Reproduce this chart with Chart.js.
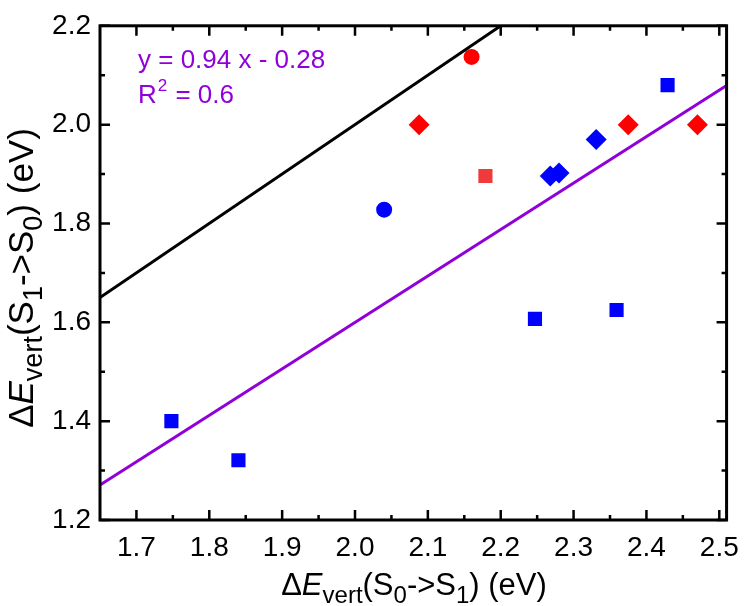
<!DOCTYPE html>
<html>
<head>
<meta charset="utf-8">
<style>
  html, body { margin: 0; padding: 0; background: #fff; }
  #wrap { width: 750px; height: 606px; }
</style>
<script src="https://cdn.jsdelivr.net/npm/chart.js@4"></script>
</head>
<body>
<div id="wrap"><canvas id="chart" width="750" height="606"></canvas></div>
<script>
// ---- Data ---------------------------------------------------------------

const X_TICKS = [1.7, 1.8, 1.9, 2.0, 2.1, 2.2, 2.3, 2.4, 2.5];
const Y_TICKS = [1.2, 1.4, 1.6, 1.8, 2.0, 2.2];
const X_MINOR = [1.75, 1.85, 1.95, 2.05, 2.15, 2.25, 2.35, 2.45];
const Y_MINOR = [1.3, 1.5, 1.7, 1.9, 2.1];

const blueSquares = [
  { x: 1.748, y: 1.400 },
  { x: 1.840, y: 1.321 },
  { x: 2.247, y: 1.607 },
  { x: 2.359, y: 1.625 },
  { x: 2.429, y: 2.080 },
];
const blueDiamonds = [
  { x: 2.268, y: 1.896 },
  { x: 2.280, y: 1.902 },
  { x: 2.331, y: 1.970 },
];
const blueCircles = [{ x: 2.040, y: 1.828 }];
const redDiamonds = [
  { x: 2.088, y: 2.000 },
  { x: 2.375, y: 2.000 },
  { x: 2.470, y: 2.000 },
];
const redCircles = [{ x: 2.160, y: 2.137 }];
const redSquares = [{ x: 2.179, y: 1.896 }];

// y = x reference line and linear fit (y = 0.94 x - 0.28)
const diagLine = [{ x: 1.65, y: 1.65 }, { x: 2.2, y: 2.2 }];
const fitLine = [{ x: 1.65, y: 1.271 }, { x: 2.51, y: 2.079 }];

const FIT_TEXT = "y = 0.94 x - 0.28";

// ---- Styling -------------------------------------------------------------

const FONT = '"Liberation Sans", Arial, sans-serif';
const BLUE = "#0000ff";
const RED = "#ff0000";
const PINK_RED = "#f03a3a";
const PURPLE = "#9000d8";

function points(label, data, color, style, radius) {
  return {
    label, data, type: "scatter",
    pointStyle: style, pointRadius: radius, pointHoverRadius: radius,
    backgroundColor: color, borderColor: color, borderWidth: 0,
  };
}

function line(label, data, color, width) {
  return {
    label, data, type: "line", showLine: true,
    borderColor: color, borderWidth: width, pointRadius: 0,
    fill: false, tension: 0,
  };
}

// draws text pieces (normal / italic / subscript) centred on the origin
function drawRich(ctx, parts, size) {
  const fontOf = (p) => {
    const s = p.sub ? Math.round(size * 0.78) : size;
    return `${p.italic ? "italic " : ""}${s}px ${FONT}`;
  };
  let total = 0;
  parts.forEach((p) => { ctx.font = fontOf(p); total += ctx.measureText(p.t).width; });
  let x = -total / 2;
  parts.forEach((p) => {
    ctx.font = fontOf(p);
    ctx.fillText(p.t, x, p.sub ? size * 0.25 : 0);
    x += ctx.measureText(p.t).width;
  });
}

const frame = {
  id: "frame",
  afterDraw(chart) {
    const { ctx, chartArea: a, scales } = chart;
    const xs = scales.x, ys = scales.y;
    ctx.save();
    ctx.strokeStyle = "#000";
    ctx.lineWidth = 3;
    ctx.strokeRect(a.left, a.top, a.right - a.left, a.bottom - a.top);

    ctx.lineWidth = 2.5;
    const tickX = (v, len) => {
      const px = xs.getPixelForValue(v);
      ctx.beginPath();
      ctx.moveTo(px, a.bottom); ctx.lineTo(px, a.bottom - len);
      ctx.moveTo(px, a.top); ctx.lineTo(px, a.top + len);
      ctx.stroke();
    };
    const tickY = (v, len) => {
      const py = ys.getPixelForValue(v);
      ctx.beginPath();
      ctx.moveTo(a.left, py); ctx.lineTo(a.left + len, py);
      ctx.moveTo(a.right, py); ctx.lineTo(a.right - len, py);
      ctx.stroke();
    };
    X_TICKS.forEach((v) => tickX(v, 10));
    X_MINOR.forEach((v) => tickX(v, 5));
    Y_TICKS.forEach((v) => tickY(v, 10));
    Y_MINOR.forEach((v) => tickY(v, 5));

    // axis titles
    const xTitle = [
      { t: "Δ" }, { t: "E", italic: true }, { t: "vert", sub: true },
      { t: "(S" }, { t: "0", sub: true }, { t: "->S" }, { t: "1", sub: true },
      { t: ") (eV)" },
    ];
    const yTitle = [
      { t: "Δ" }, { t: "E", italic: true }, { t: "vert", sub: true },
      { t: "(S" }, { t: "1", sub: true }, { t: "->S" }, { t: "0", sub: true },
      { t: ") (eV)" },
    ];
    ctx.fillStyle = "#000";
    ctx.textBaseline = "alphabetic";
    ctx.textAlign = "left";
    ctx.save();
    ctx.translate(414, 595);
    drawRich(ctx, xTitle, 31);
    ctx.restore();

    ctx.save();
    ctx.translate(33, 278);
    ctx.rotate(-Math.PI / 2);
    drawRich(ctx, yTitle, 35);
    ctx.restore();

    // fit annotation
    ctx.fillStyle = PURPLE;
    ctx.font = `26px ${FONT}`;
    ctx.fillText(FIT_TEXT, 138, 68);
    ctx.fillText("R", 138, 103);
    const rw = ctx.measureText("R").width;
    ctx.font = `17px ${FONT}`;
    ctx.fillText("2", 138 + rw + 1, 91);
    const sw = ctx.measureText("2").width;
    ctx.font = `26px ${FONT}`;
    ctx.fillText(" = 0.6", 138 + rw + sw + 2, 103);
    ctx.restore();
  },
};

new Chart(document.getElementById("chart"), {
  type: "scatter",
  data: {
    datasets: [
      line("y = x", diagLine, "#000", 3),
      line("fit", fitLine, PURPLE, 3),
      points("blue squares", blueSquares, BLUE, "rect", 10),
      points("blue diamonds", blueDiamonds, BLUE, "rectRot", 10.5),
      points("blue circles", blueCircles, BLUE, "circle", 8),
      points("red diamonds", redDiamonds, RED, "rectRot", 10.5),
      points("red circles", redCircles, RED, "circle", 8),
      points("red squares", redSquares, PINK_RED, "rect", 10),
    ],
  },
  options: {
    responsive: false,
    animation: false,
    layout: { padding: { top: 14, right: 21, left: 0, bottom: 0 } },
    plugins: { legend: { display: false }, tooltip: { enabled: false } },
    scales: {
      x: {
        type: "linear", min: 1.65, max: 2.51,
        grid: { display: false, drawTicks: false },
        border: { display: false },
        afterBuildTicks: (s) => { s.ticks = X_TICKS.map((v) => ({ value: v })); },
        afterFit: (s) => { s.height = 86; },
        ticks: {
          color: "#000", padding: 11, maxRotation: 0, autoSkip: false,
          font: { family: FONT, size: 28 },
          callback: (v) => v.toFixed(1),
        },
      },
      y: {
        type: "linear", min: 1.2, max: 2.2,
        grid: { display: false, drawTicks: false },
        border: { display: false },
        afterBuildTicks: (s) => { s.ticks = Y_TICKS.map((v) => ({ value: v })); },
        afterFit: (s) => { s.width = 100; },
        ticks: {
          color: "#000", padding: 9, autoSkip: false,
          font: { family: FONT, size: 28 },
          callback: (v) => v.toFixed(1),
        },
      },
    },
  },
  plugins: [frame],
});
</script>
</body>
</html>
